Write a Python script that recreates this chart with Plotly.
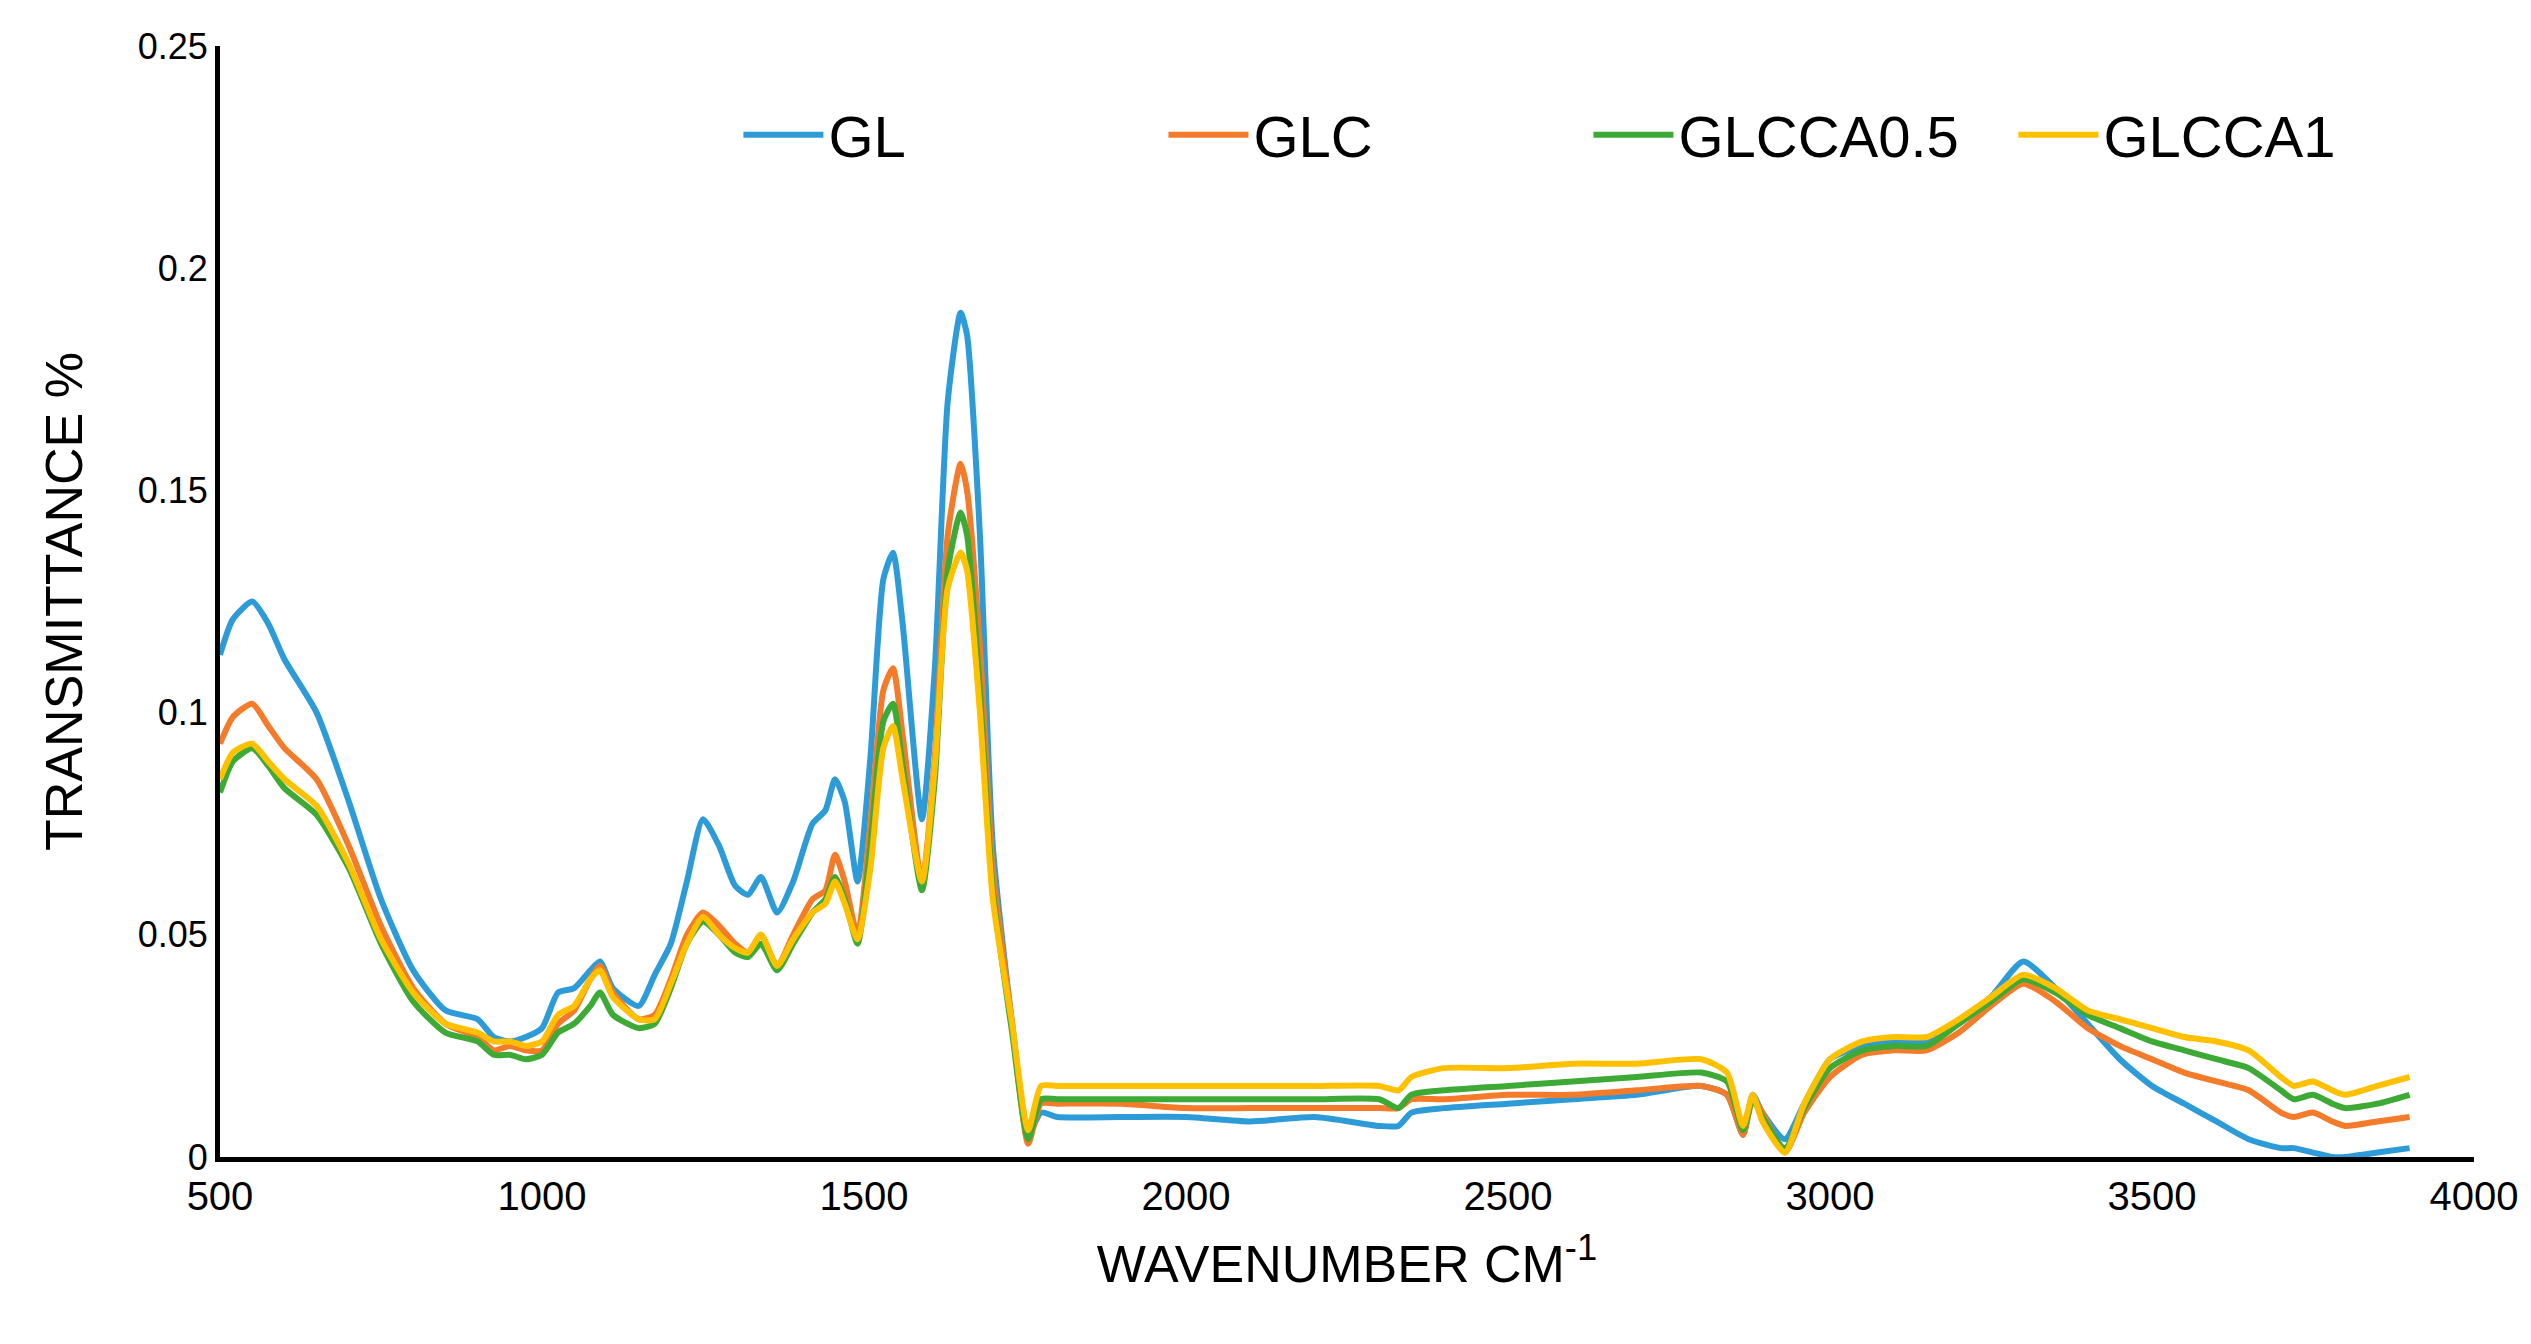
import plotly.graph_objects as go

wavenumber = [500,520,550,575,600,650,700,750,800,850,900,925,950,975,1000,1025,1050,1075,1090,1110,
1150,1175,1200,1225,1250,1275,1300,1320,1340,1365,1390,1420,1440,1455,1470,1490,1510,1530,1545,1560,
1590,1610,1630,1650,1660,1680,1700,1730,1755,1775,1800,1900,2000,2100,2200,2300,2330,2350,2400,2500,
2600,2700,2800,2840,2865,2880,2895,2930,2960,3000,3050,3100,3150,3200,3250,3300,3350,3400,3450,3500,
3550,3600,3650,3700,3720,3750,3780,3800,3850,3900]

gl = [0.113,0.121,0.125,0.120,0.112,0.100,0.080,0.058,0.042,0.033,0.031,0.027,0.026,0.027,0.029,
0.037,0.038,0.042,0.044,0.038,0.034,0.041,0.048,0.062,0.076,0.070,0.061,0.059,0.063,0.055,
0.062,0.075,0.078,0.085,0.080,0.062,0.090,0.130,0.136,0.120,0.076,0.110,0.170,0.190,0.185,
0.140,0.070,0.030,0.005,0.010,0.009,0.009,0.009,0.008,0.009,0.007,0.007,0.010,0.011,0.012,
0.013,0.014,0.016,0.014,0.005,0.014,0.010,0.004,0.012,0.022,0.025,0.026,0.026,0.030,0.036,
0.044,0.038,0.030,0.022,0.016,0.012,0.008,0.004,0.002,0.002,0.001,0.000,0.000,0.001,0.002]

glc = [0.093,0.099,0.102,0.097,0.092,0.085,0.070,0.052,0.038,0.030,0.027,0.024,0.025,0.024,0.024,
0.030,0.033,0.040,0.043,0.037,0.031,0.032,0.040,0.050,0.055,0.052,0.048,0.046,0.050,0.043,
0.050,0.058,0.060,0.068,0.062,0.050,0.075,0.105,0.110,0.095,0.062,0.090,0.140,0.156,0.150,
0.115,0.065,0.030,0.003,0.012,0.012,0.012,0.011,0.011,0.011,0.011,0.011,0.013,0.013,0.014,
0.014,0.015,0.016,0.014,0.005,0.013,0.010,0.001,0.010,0.018,0.023,0.024,0.024,0.028,0.034,
0.039,0.035,0.029,0.025,0.022,0.019,0.017,0.015,0.010,0.009,0.010,0.008,0.007,0.008,0.009]

glcca05 = [0.082,0.089,0.092,0.088,0.083,0.077,0.065,0.048,0.035,0.028,0.026,0.023,0.023,0.022,0.023,
0.028,0.030,0.034,0.037,0.032,0.029,0.030,0.038,0.048,0.053,0.050,0.046,0.045,0.048,0.042,
0.048,0.055,0.058,0.063,0.058,0.048,0.070,0.098,0.102,0.088,0.060,0.085,0.132,0.145,0.140,
0.105,0.060,0.028,0.004,0.013,0.013,0.013,0.013,0.013,0.013,0.013,0.011,0.014,0.015,0.016,
0.017,0.018,0.019,0.017,0.006,0.013,0.009,0.002,0.011,0.020,0.024,0.025,0.025,0.030,0.035,
0.040,0.037,0.032,0.029,0.026,0.024,0.022,0.020,0.015,0.013,0.014,0.012,0.011,0.012,0.014]

glcca1 = [0.085,0.091,0.093,0.089,0.085,0.079,0.066,0.049,0.037,0.030,0.028,0.026,0.026,0.025,0.026,
0.032,0.034,0.040,0.042,0.036,0.031,0.031,0.039,0.048,0.054,0.050,0.047,0.046,0.050,0.043,
0.049,0.055,0.057,0.062,0.057,0.049,0.065,0.092,0.097,0.085,0.062,0.088,0.128,0.136,0.132,
0.100,0.058,0.030,0.006,0.016,0.016,0.016,0.016,0.016,0.016,0.016,0.015,0.018,0.020,0.020,
0.021,0.021,0.022,0.019,0.007,0.014,0.008,0.001,0.012,0.022,0.026,0.027,0.027,0.031,0.036,
0.041,0.038,0.033,0.031,0.029,0.027,0.026,0.024,0.018,0.016,0.017,0.015,0.014,0.016,0.018]

series = [("GL", gl, "#2E9BD9"), ("GLC", glc, "#F47B2A"),
          ("GLCCA0.5", glcca05, "#3DAA35"), ("GLCCA1", glcca1, "#FFC000")]

y_ticks = [0, 0.05, 0.1, 0.15, 0.2, 0.25]
y_tick_labels = ["0", "0.05", "0.1", "0.15", "0.2", "0.25"]

fig = go.Figure()
for name, ys, col in series:
    fig.add_trace(go.Scatter(x=wavenumber, y=ys, name=name, mode="lines",
                             line=dict(color=col, width=6, shape="spline", smoothing=0.6)))

fig.update_layout(
    width=2531, height=1344, paper_bgcolor="white", plot_bgcolor="white",
    margin=dict(l=212, r=65, t=38, b=195),
    font=dict(family="Liberation Sans", color="black", size=40),
    legend=dict(orientation="h", x=0.23, y=0.96, yanchor="top", xanchor="left",
                font=dict(size=58), itemwidth=80, entrywidth=330, entrywidthmode="pixels",
                bgcolor="rgba(0,0,0,0)"),
    xaxis=dict(range=[500, 4000], tickvals=[500,1000,1500,2000,2500,3000,3500,4000],
               showgrid=False, zeroline=False, showline=True, linecolor="black", linewidth=5,
               ticks="", tickfont=dict(size=40),
               title=dict(text="WAVENUMBER CM<sup>-1</sup>", font=dict(size=52), standoff=30)),
    yaxis=dict(range=[0, 0.25], tickvals=y_ticks, ticktext=y_tick_labels,
               showgrid=False, zeroline=False, showline=True, linecolor="black", linewidth=5,
               ticks="", tickfont=dict(size=36),
               title=dict(text="TRANSMITTANCE %", font=dict(size=52), standoff=40)),
)
fig.write_html("out.html")
